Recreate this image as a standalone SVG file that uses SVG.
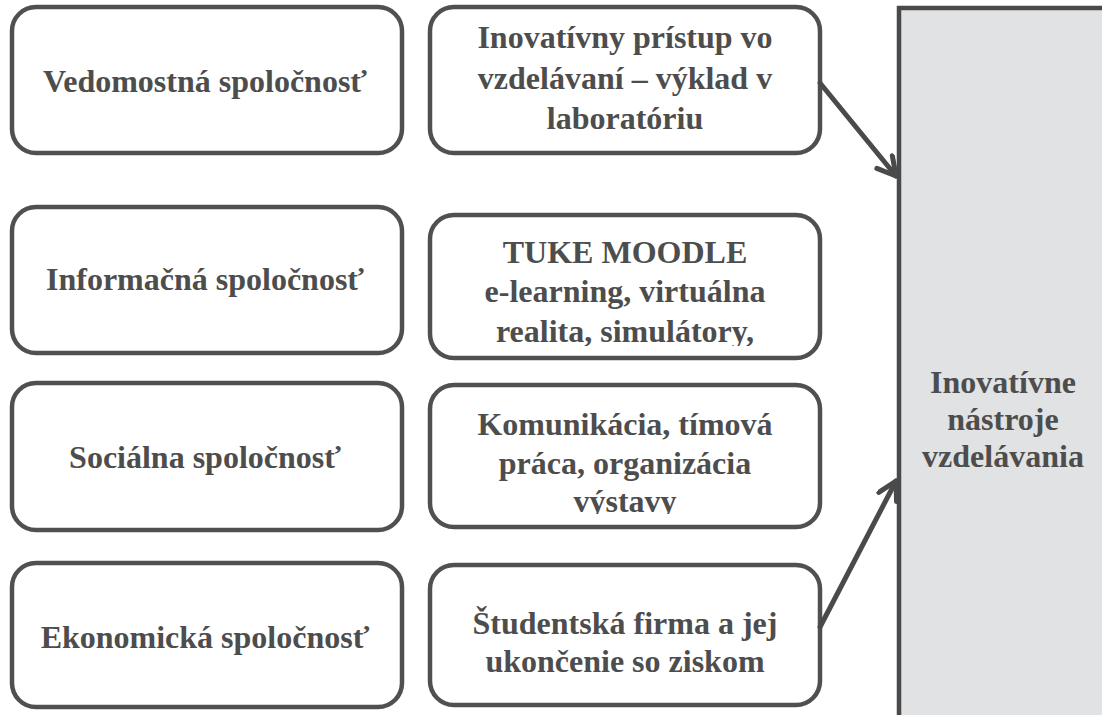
<svg xmlns="http://www.w3.org/2000/svg" width="1102" height="715" viewBox="0 0 1102 715">
<style>
.box{fill:#ffffff;stroke:#505050;stroke-width:4.5}
.t{font-family:'Liberation Serif','Times New Roman',serif;font-weight:700;font-size:32px;fill:#4d4d4d;text-anchor:middle}
.conn{stroke:#4a4a4a;stroke-width:5;fill:none;stroke-linecap:round}
</style>
<defs>
<marker id="ah" markerUnits="userSpaceOnUse" markerWidth="30" markerHeight="30" refX="22" refY="12" orient="auto">
<path d="M4,2 L22,12 L4,22" fill="none" stroke="#4a4a4a" stroke-width="5" stroke-linecap="round" stroke-linejoin="round"/>
</marker>
<clipPath id="c2"><rect x="430" y="215" width="390" height="131"/></clipPath>
<clipPath id="c3"><rect x="430" y="385" width="390" height="129"/></clipPath>
</defs>
<g id="panel">
<rect x="899" y="8" width="220" height="720" fill="#e1e2e4" stroke="#4a4a4a" stroke-width="4.5"/>
<text class="t"><tspan x="1003" y="393">Inovatívne</tspan><tspan x="1003" y="430">nástroje</tspan><tspan x="1003" y="467">vzdelávania</tspan></text>
</g>
<g id="vedomostna">
<rect class="box" x="12" y="7" width="390" height="146" rx="24"/>
<text class="t" x="205" y="92">Vedomostná spoločnosť</text>
</g>
<g id="informacna">
<rect class="box" x="12" y="207" width="390" height="146" rx="24"/>
<text class="t" x="205" y="290">Informačná spoločnosť</text>
</g>
<g id="socialna">
<rect class="box" x="12" y="383" width="390" height="147" rx="24"/>
<text class="t" x="205" y="468">Sociálna spoločnosť</text>
</g>
<g id="ekonomicka">
<rect class="box" x="12" y="563" width="390" height="144" rx="24"/>
<text class="t" x="205" y="648">Ekonomická spoločnosť</text>
</g>
<g id="inovativny">
<rect class="box" x="430" y="7" width="390" height="146" rx="24"/>
<text class="t"><tspan x="625" y="48">Inovatívny prístup vo</tspan><tspan x="625" y="89">vzdelávaní – výklad v</tspan><tspan x="625" y="129">laboratóriu</tspan></text>
</g>
<g id="tuke">
<rect class="box" x="430" y="215" width="390" height="143" rx="24"/>
<text class="t" clip-path="url(#c2)"><tspan x="625" y="263">TUKE MOODLE</tspan><tspan x="625" y="302">e-learning, virtuálna</tspan><tspan x="625" y="342">realita, simulátory,</tspan></text>
</g>
<g id="komunikacia">
<rect class="box" x="430" y="385" width="390" height="142" rx="24"/>
<text class="t" clip-path="url(#c3)"><tspan x="625" y="435">Komunikácia, tímová</tspan><tspan x="625" y="474">práca, organizácia</tspan><tspan x="625" y="512">výstavy</tspan></text>
</g>
<g id="studentska">
<rect class="box" x="430" y="565" width="390" height="140" rx="24"/>
<text class="t"><tspan x="625" y="634">Študentská firma a jej</tspan><tspan x="625" y="672">ukončenie so ziskom</tspan></text>
</g>
<g id="connectors">
<line class="conn" x1="820" y1="83" x2="896" y2="176" marker-end="url(#ah)"/>
<line class="conn" x1="820" y1="627" x2="896" y2="481" marker-end="url(#ah)"/>
</g>
</svg>
